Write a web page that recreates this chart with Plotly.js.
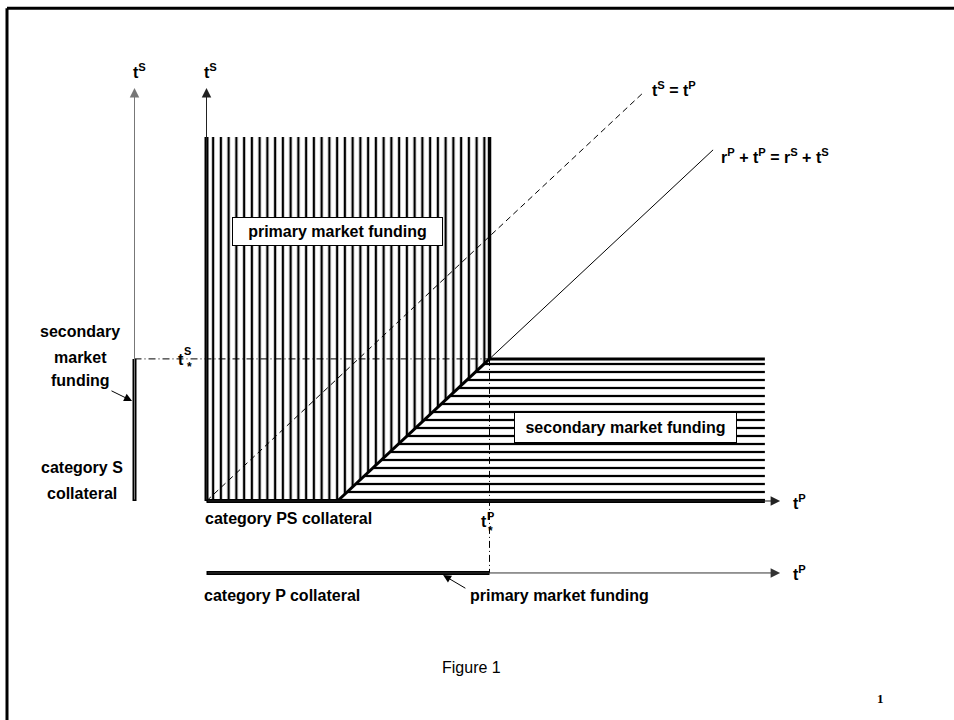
<!DOCTYPE html>
<html>
<head>
<meta charset="utf-8">
<script src="https://cdn.plot.ly/plotly-3.0.1.min.js"></script>
<style>html,body{margin:0;padding:0;background:#fff;}#chart{width:954px;height:720px;}</style>
</head>
<body>
<div id="chart"></div>
<script>
// ---- diagram values (conceptual units: t^P horizontal, t^S vertical) ----
const tPstar = 10;            // t^P_*
const spread = 4.63;          // r^S - r^P : where r^P + t^P = r^S + t^S meets t^S = 0
const tSstar = tPstar - spread; // t^S_*
const regionTop = 13.76;      // upper edge of the hatched regions
const regionRight = 19.73;    // right edge of the hatched regions
const axisTipX = 20.27;       // t^P arrow tips
const axisTipY = 15.61;       // t^S arrow tips
const diag45End = [15.4, 15.4];   // end of t^S = t^P line
const rLineEndTP = 17.9;          // end of r^P + t^P = r^S + t^S line
const leftAxisX = -2.544;         // category S axis position
const lowerAxisY = -2.72;         // category P axis position

// hatched regions (vertices)
const primaryX = [0, spread, tPstar, tPstar, 0, 0];
const primaryY = [0, 0, tSstar, regionTop, regionTop, 0];
const secondaryX = [spread, regionRight, regionRight, tPstar, spread];
const secondaryY = [0, 0, tSstar, tSstar, 0];

const FONT = 'Liberation Sans, Arial, sans-serif';

const traces = [
  {type:'scatter', mode:'lines', x:primaryX, y:primaryY, fill:'toself',
   fillcolor:'#ffffff', line:{width:0, color:'rgba(0,0,0,0)'}, hoverinfo:'skip',
   fillpattern:{shape:'|', size:7.75, solidity:0.3, fgcolor:'#000000', bgcolor:'#ffffff', fillmode:'replace'}},
  {type:'scatter', mode:'lines', x:secondaryX, y:secondaryY, fill:'toself',
   fillcolor:'#ffffff', line:{width:0, color:'rgba(0,0,0,0)'}, hoverinfo:'skip',
   fillpattern:{shape:'-', size:8, solidity:0.28, fgcolor:'#000000', bgcolor:'#ffffff', fillmode:'replace'}}
];

function seg(x0,y0,x1,y1,w,color,dash){
  return {type:'line', xref:'x', yref:'y', x0:x0, y0:y0, x1:x1, y1:y1,
          line:{width:w, color:color||'#000', dash:dash||'solid'}, layer:'above'};
}

const shapes = [
  // main axes thick
  seg(0,0,regionRight,0,4),
  seg(0,0,0,regionTop,4),
  // region boundaries
  seg(tPstar,tSstar,tPstar,regionTop,3.5),
  seg(tPstar,tSstar,regionRight,tSstar,3),
  seg(spread,0,tPstar,tSstar,3),
  // thin r line continuation
  seg(tPstar,tSstar,rLineEndTP,rLineEndTP-spread,1),
  // 45 degree dashed line
  seg(0,0,diag45End[0],diag45End[1],1,'#000','6px,4px'),
  // dash-dot guides
  seg(leftAxisX,tSstar,tPstar,tSstar,1,'#000','7px,3px,1px,3px'),
  seg(tPstar,tSstar,tPstar,lowerAxisY,1,'#000','7px,3px,1px,3px'),
  // left axis thick part
  seg(leftAxisX,0,leftAxisX,tSstar,4),
  // lower axis thick part
  seg(0,lowerAxisY,tPstar,lowerAxisY,4),
  // page frame
  {type:'line', xref:'paper', yref:'paper', x0:7/954, x1:1.01, y0:1-8.3/720, y1:1-8.3/720, line:{width:3, color:'#000'}},
  {type:'line', xref:'paper', yref:'paper', x0:7/954, x1:7/954, y0:-0.01, y1:1-8.3/720, line:{width:3, color:'#000'}}
];

function arrow(x0,y0,x1,y1,color,size){
  return {x:x1, y:y1, ax:x0, ay:y0, xref:'x', yref:'y', axref:'x', ayref:'y',
          text:'', showarrow:true, arrowhead:2, arrowsize:size||1.9, arrowwidth:1,
          arrowcolor:color||'#000', standoff:0, startstandoff:0};
}
function txt(x,y,t,opts){
  opts = opts||{};
  return Object.assign({x:x, y:y, xref:'x', yref:'y', text:t, showarrow:false,
    font:{family:FONT, size:16, color:'#000'}, xanchor:'center', yanchor:'middle'}, opts);
}

const annotations = [
  // axis arrows
  arrow(0,0,0,axisTipY,'#222'),
  arrow(0,0,axisTipX,0,'#222'),
  arrow(leftAxisX,0,leftAxisX,axisTipY,'#777'),
  arrow(0,lowerAxisY,axisTipX,lowerAxisY,'#333'),
  // pointer arrows
  arrow(-3.41,4.19,-2.63,3.78,'#000',1.6),
  arrow(9.2,-3.33,8.36,-2.80,'#000',1.6),
  // axis labels
  txt(0.124,16.25,'<b>t<sup>S</sup></b>'),
  txt(leftAxisX+0.16,16.25,'<b>t<sup>S</sup></b>'),
  txt(20.97,-0.04,'<b>t<sup>P</sup></b>'),
  txt(20.97,lowerAxisY,'<b>t<sup>P</sup></b>'),
  // line labels
  txt(16.52,15.57,'<b>t<sup>S</sup> = t<sup>P</sup></b>'),
  txt(20.09,13.04,'<b>r<sup>P</sup> + t<sup>P</sup> = r<sup>S</sup> + t<sup>S</sup></b>'),
  // t^S_* label
  txt(-0.919,5.33,'<b>t</b>'),
  txt(-0.68,5.67,'<b>S</b>',{font:{family:FONT,size:11,color:'#000'}}),
  txt(-0.60,5.08,'<b>*</b>',{font:{family:FONT,size:12,color:'#000'}}),
  // t^P_* label
  txt(9.82,-0.79,'<b>t</b>'),
  txt(10.02,-0.55,'<b>P</b>',{font:{family:FONT,size:11,color:'#000'}}),
  txt(10.05,-1.12,'<b>*</b>',{font:{family:FONT,size:12,color:'#000'}}),
  // boxed region labels
  txt(4.63,10.19,'<b>primary market funding</b>',{bgcolor:'#fff', bordercolor:'#000', borderwidth:1, borderpad:5, width:199}),
  txt(14.81,2.76,'<b>secondary market funding</b>',{bgcolor:'#fff', bordercolor:'#000', borderwidth:1, borderpad:6, width:209}),
  // collateral labels
  txt(-0.124,-0.68,'<b>category PS collateral</b>',{xanchor:'left'}),
  txt(-0.16,-3.59,'<b>category P collateral</b>',{xanchor:'left'}),
  txt(9.24,-3.59,'<b>primary market funding</b>',{xanchor:'left'}),
  txt(-4.47,6.39,'<b>secondary</b>'),
  txt(-4.47,5.44,'<b>market</b>'),
  txt(-4.47,4.54,'<b>funding</b>'),
  txt(-4.40,1.25,'<b>category S</b>'),
  txt(-4.40,0.30,'<b>collateral</b>'),
  // caption & page number
  txt(9.35,-6.31,'Figure 1'),
  txt(23.8,-7.45,'<b>1</b>',{font:{family:'Liberation Serif, Times New Roman, serif', size:13, color:'#000'}})
];

const layout = {
  width:954, height:720,
  margin:{l:0, r:0, t:0, b:0, pad:0},
  paper_bgcolor:'#ffffff', plot_bgcolor:'#ffffff',
  showlegend:false,
  xaxis:{range:[-7.297,26.413], visible:false, fixedrange:true},
  yaxis:{range:[-8.277,18.934], visible:false, fixedrange:true},
  shapes:shapes,
  annotations:annotations
};

Plotly.newPlot('chart', traces, layout, {staticPlot:true, displayModeBar:false});
</script>
</body>
</html>
